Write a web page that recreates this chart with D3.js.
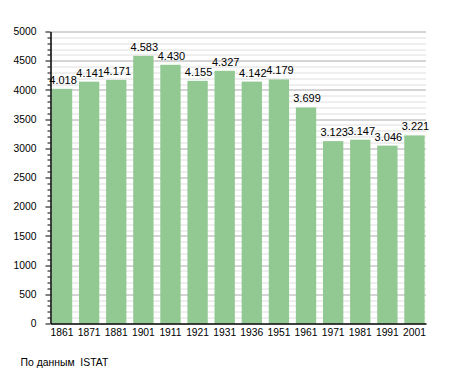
<!DOCTYPE html>
<html>
<head>
<meta charset="utf-8">
<script src="https://cdn.jsdelivr.net/npm/d3@7"></script>
<style>
body{margin:0;background:#fff;}
text{font-family:"Liberation Sans",Arial,sans-serif;}
</style>
</head>
<body>
<div id="chart"></div>
<script>
var years=["1861","1871","1881","1901","1911","1921","1931","1936","1951","1961","1971","1981","1991","2001"]
var population=[4018,4141,4171,4583,4430,4155,4327,4142,4179,3699,3123,3147,3046,3221]
var yTicks=[0,500,1000,1500,2000,2500,3000,3500,4000,4500,5000]
var source="По данным  ISTAT"

var svgWidth=455
var svgHeight=373
var margin={top:31.5,right:29,bottom:49.5,left:50.5}
var chartWidth=svgWidth-margin.left-margin.right
var chartHeight=svgHeight-margin.top-margin.bottom

var svg=d3.select("#chart")
    .append("svg")
    .attr("width",svgWidth)
    .attr("height",svgHeight)
var g=svg.append("g")
    .attr("transform",`translate(${margin.left},${margin.top})`)

var x=d3.scaleBand()
    .domain(years)
    .range([0,chartWidth])
    .paddingInner(0.25)
    .paddingOuter(0.05)
var y=d3.scaleLinear()
    .domain([0,5000])
    .range([chartHeight,0])

// minor grid every 100
g.append("g")
    .selectAll("line")
    .data(d3.range(100,5001,100).filter(d=>d%500!=0))
    .enter()
    .append("line")
    .attr("x1",0)
    .attr("x2",chartWidth)
    .attr("y1",d=>Math.round(y(d))+0.5)
    .attr("y2",d=>Math.round(y(d))+0.5)
    .attr("stroke","#dedede")
// major grid
g.append("g")
    .selectAll("line")
    .data(yTicks.slice(1))
    .enter()
    .append("line")
    .attr("x1",0)
    .attr("x2",chartWidth)
    .attr("y1",d=>Math.round(y(d))+0.5)
    .attr("y2",d=>Math.round(y(d))+0.5)
    .attr("stroke","#aaaaaa")

g.selectAll(".bar")
    .data(population)
    .enter()
    .append("rect")
    .attr("class","bar")
    .attr("x",(d,i)=>x(years[i]))
    .attr("y",d=>y(d))
    .attr("width",x.bandwidth())
    .attr("height",d=>chartHeight-y(d))
    .attr("fill","#92c992")

g.selectAll(".val")
    .data(population)
    .enter()
    .append("text")
    .attr("class","val")
    .attr("x",(d,i)=>x(years[i])+x.bandwidth()/2+1)
    .attr("y",d=>y(d)-5)
    .attr("text-anchor","middle")
    .attr("font-size","11px")
    .attr("fill","#000")
    .text(d=>d3.format(",")(d).replace(",","."))

// y axis ticks, minor every 100
g.append("g")
    .selectAll("line")
    .data(d3.range(0,5001,100))
    .enter()
    .append("line")
    .attr("x1",d=>d%500==0?-5:-3)
    .attr("x2",0)
    .attr("y1",d=>Math.round(y(d))+0.5)
    .attr("y2",d=>Math.round(y(d))+0.5)
    .attr("stroke","#000")

var leftAxis=d3.axisLeft(y).tickValues(yTicks).tickFormat(d3.format("d")).tickSize(0).tickPadding(14)
var yAxis=g.append("g").call(leftAxis)
yAxis.select(".domain").attr("stroke","#000").attr("stroke-width",1.5)
yAxis.selectAll("text").attr("font-size","10.3px").attr("font-family","Liberation Sans,Arial,sans-serif")

var bottomAxis=d3.axisBottom(x).tickSize(0).tickPadding(5)
var xAxis=g.append("g")
    .attr("transform",`translate(0,${chartHeight})`)
    .call(bottomAxis)
xAxis.select(".domain").attr("stroke","#000").attr("stroke-width",1.5)
xAxis.selectAll("text").attr("font-size","10.3px").attr("font-family","Liberation Sans,Arial,sans-serif")

svg.append("text")
    .attr("x",20.5)
    .attr("y",365.5)
    .attr("font-size","10.4px")
    .attr("fill","#000")
    .style("white-space","pre")
    .text(source)
</script>
</body>
</html>
